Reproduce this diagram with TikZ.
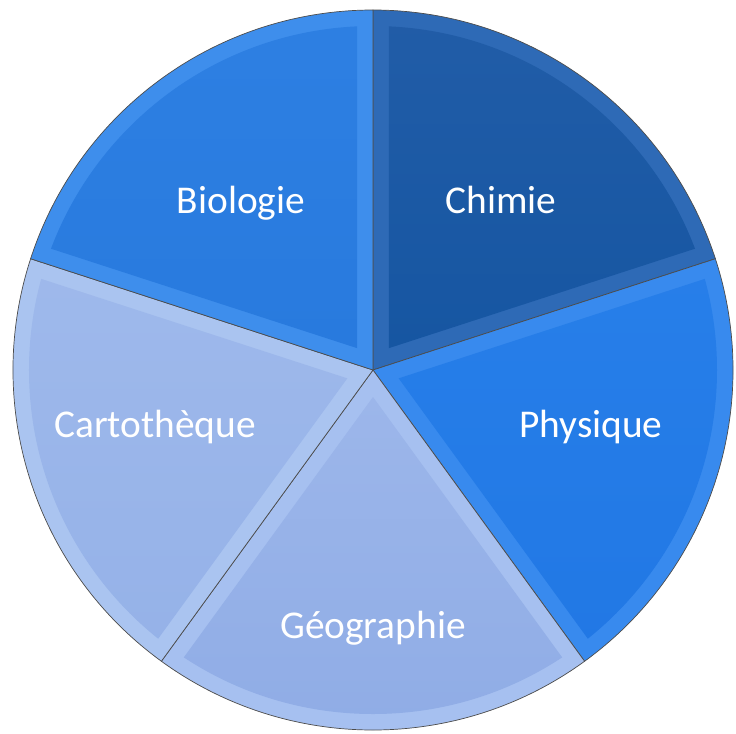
\documentclass[tikz,border=0pt]{standalone}
\usepackage{fontspec}
\setmainfont{Carlito}

\definecolor{chimieA}{RGB}{42,98,172}
\definecolor{chimieB}{RGB}{22,86,162}
\definecolor{chimieE}{RGB}{46,106,182}
\definecolor{physA}{RGB}{40,128,234}
\definecolor{physB}{RGB}{30,116,226}
\definecolor{physE}{RGB}{56,138,238}
\definecolor{bioA}{RGB}{50,132,230}
\definecolor{bioB}{RGB}{40,122,222}
\definecolor{bioE}{RGB}{62,142,236}
\definecolor{cartoA}{RGB}{160,186,236}
\definecolor{cartoB}{RGB}{144,174,230}
\definecolor{cartoE}{RGB}{170,196,240}
\definecolor{geoA}{RGB}{156,182,234}
\definecolor{geoB}{RGB}{138,168,228}
\definecolor{geoE}{RGB}{166,192,240}

\begin{document}
\begin{tikzpicture}[x=0.025cm, y=0.025cm,
    bord/.style={draw=gray!60!black, line width=0.5pt},
    etiquette/.style={text=white, font=\fontsize{28}{34}\selectfont, inner sep=0pt}]

        \useasboundingbox (-373,-363) rectangle (363,370);

        % Secteur Chimie
        \fill[chimieE] (0,0) -- (90:360) arc[start angle=90, end angle=18, radius=360] -- cycle;
        \begin{scope}
            \clip (0,0) circle (344);
            \shade[top color=chimieA, bottom color=chimieB, shift={(54:27)}] (0,0) -- (90:600) -- (18:600) -- cycle;
        \end{scope}
        \draw[bord] (0,0) -- (90:360) arc[start angle=90, end angle=18, radius=360] -- cycle;

        % Secteur Physique
        \fill[physE] (0,0) -- (18:360) arc[start angle=18, end angle=-54, radius=360] -- cycle;
        \begin{scope}
            \clip (0,0) circle (344);
            \shade[top color=physA, bottom color=physB, shift={(-18:27)}] (0,0) -- (18:600) -- (-54:600) -- cycle;
        \end{scope}
        \draw[bord] (0,0) -- (18:360) arc[start angle=18, end angle=-54, radius=360] -- cycle;

        % Secteur Geographie
        \fill[geoE] (0,0) -- (-54:360) arc[start angle=-54, end angle=-126, radius=360] -- cycle;
        \begin{scope}
            \clip (0,0) circle (344);
            \shade[top color=geoA, bottom color=geoB, shift={(-90:27)}] (0,0) -- (-54:600) -- (-126:600) -- cycle;
        \end{scope}
        \draw[bord] (0,0) -- (-54:360) arc[start angle=-54, end angle=-126, radius=360] -- cycle;

        % Secteur Cartotheque
        \fill[cartoE] (0,0) -- (-126:360) arc[start angle=-126, end angle=-198, radius=360] -- cycle;
        \begin{scope}
            \clip (0,0) circle (344);
            \shade[top color=cartoA, bottom color=cartoB, shift={(-162:27)}] (0,0) -- (-126:600) -- (-198:600) -- cycle;
        \end{scope}
        \draw[bord] (0,0) -- (-126:360) arc[start angle=-126, end angle=-198, radius=360] -- cycle;

        % Secteur Biologie
        \fill[bioE] (0,0) -- (162:360) arc[start angle=162, end angle=90, radius=360] -- cycle;
        \begin{scope}
            \clip (0,0) circle (344);
            \shade[top color=bioA, bottom color=bioB, shift={(126:27)}] (0,0) -- (162:600) -- (90:600) -- cycle;
        \end{scope}
        \draw[bord] (0,0) -- (162:360) arc[start angle=162, end angle=90, radius=360] -- cycle;

        % Etiquettes
        \node[etiquette] (chimie) at (128,170) {Chimie};
        \node[etiquette] (physique) at (218,-57) {Physique};
        \node[etiquette] (geographie) at (0,-258) {Géographie};
        \node[etiquette] (cartotheque) at (-218,-57) {Cartothèque};
        \node[etiquette] (biologie) at (-132,167) {Biologie};

    \end{tikzpicture}
\end{document}
